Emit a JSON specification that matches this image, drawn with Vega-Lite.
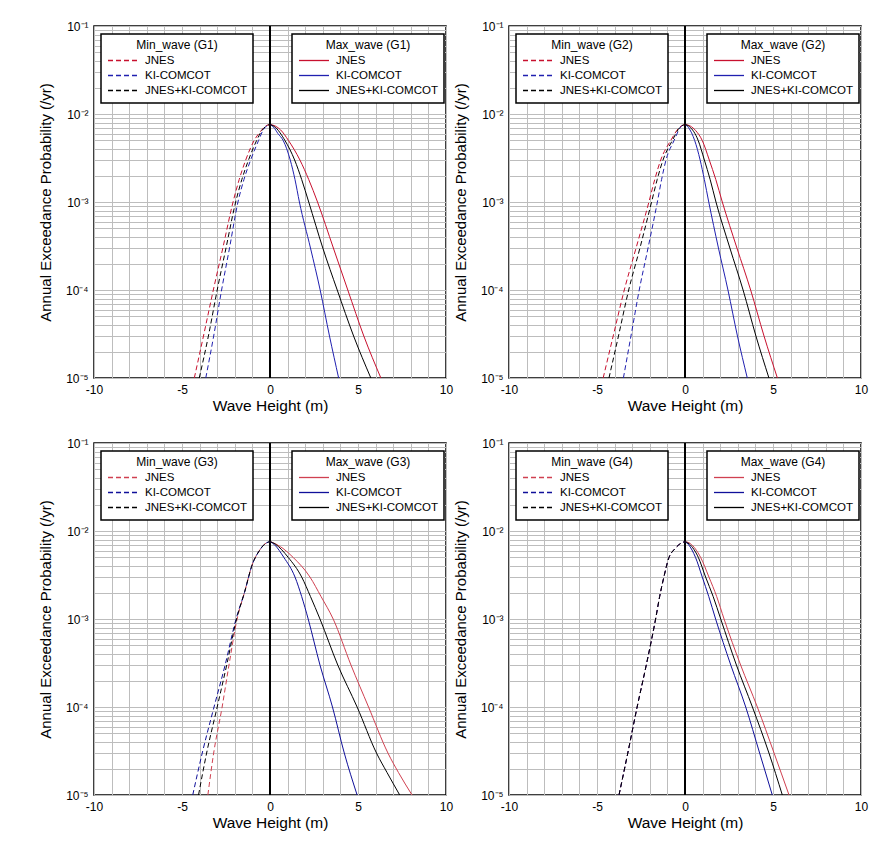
{
"$schema":"https://vega.github.io/schema/vega-lite/v6.json",
"padding":{"left":37,"top":19,"right":5,"bottom":5},
"background":"white",
"bounds":"flush",
"columns":2,
"spacing":{"row":65,"column":63},
"datasets":{"d":[
{"g":"G1","s":"max","m":"JNES","x":0,"p":0.0076},{"g":"G1","s":"max","m":"JNES","x":0.3,"p":0.0073},{"g":"G1","s":"max","m":"JNES","x":0.6,"p":0.0066},{"g":"G1","s":"max","m":"JNES","x":1.05,"p":0.005},{"g":"G1","s":"max","m":"JNES","x":1.7,"p":0.003},{"g":"G1","s":"max","m":"JNES","x":2.2,"p":0.0018},{"g":"G1","s":"max","m":"JNES","x":2.7,"p":0.001},{"g":"G1","s":"max","m":"JNES","x":3.6,"p":0.0003},{"g":"G1","s":"max","m":"JNES","x":4.42,"p":0.0001},{"g":"G1","s":"max","m":"JNES","x":5.33,"p":0.00003},{"g":"G1","s":"max","m":"JNES","x":6.3,"p":0.00001},
{"g":"G1","s":"max","m":"KI-COMCOT","x":0,"p":0.0076},{"g":"G1","s":"max","m":"KI-COMCOT","x":0.2,"p":0.0071},{"g":"G1","s":"max","m":"KI-COMCOT","x":0.45,"p":0.006},{"g":"G1","s":"max","m":"KI-COMCOT","x":0.75,"p":0.005},{"g":"G1","s":"max","m":"KI-COMCOT","x":1.15,"p":0.003},{"g":"G1","s":"max","m":"KI-COMCOT","x":1.42,"p":0.0018},{"g":"G1","s":"max","m":"KI-COMCOT","x":1.67,"p":0.001},{"g":"G1","s":"max","m":"KI-COMCOT","x":2.3,"p":0.0003},{"g":"G1","s":"max","m":"KI-COMCOT","x":2.85,"p":0.0001},{"g":"G1","s":"max","m":"KI-COMCOT","x":3.38,"p":0.00003},{"g":"G1","s":"max","m":"KI-COMCOT","x":3.9,"p":0.00001},
{"g":"G1","s":"max","m":"JNES+KI-COMCOT","x":0,"p":0.0076},{"g":"G1","s":"max","m":"JNES+KI-COMCOT","x":0.25,"p":0.0072},{"g":"G1","s":"max","m":"JNES+KI-COMCOT","x":0.85,"p":0.005},{"g":"G1","s":"max","m":"JNES+KI-COMCOT","x":1.4,"p":0.003},{"g":"G1","s":"max","m":"JNES+KI-COMCOT","x":1.8,"p":0.0018},{"g":"G1","s":"max","m":"JNES+KI-COMCOT","x":2.2,"p":0.001},{"g":"G1","s":"max","m":"JNES+KI-COMCOT","x":3.0,"p":0.0003},{"g":"G1","s":"max","m":"JNES+KI-COMCOT","x":3.82,"p":0.0001},{"g":"G1","s":"max","m":"JNES+KI-COMCOT","x":4.75,"p":0.00003},{"g":"G1","s":"max","m":"JNES+KI-COMCOT","x":5.73,"p":0.00001},
{"g":"G1","s":"min","m":"JNES","x":0,"p":0.0076},{"g":"G1","s":"min","m":"JNES","x":-0.25,"p":0.0073},{"g":"G1","s":"min","m":"JNES","x":-0.55,"p":0.0063},{"g":"G1","s":"min","m":"JNES","x":-0.9,"p":0.005},{"g":"G1","s":"min","m":"JNES","x":-1.38,"p":0.003},{"g":"G1","s":"min","m":"JNES","x":-1.75,"p":0.0018},{"g":"G1","s":"min","m":"JNES","x":-2.1,"p":0.001},{"g":"G1","s":"min","m":"JNES","x":-2.68,"p":0.0003},{"g":"G1","s":"min","m":"JNES","x":-3.22,"p":0.0001},{"g":"G1","s":"min","m":"JNES","x":-3.78,"p":0.00003},{"g":"G1","s":"min","m":"JNES","x":-4.3,"p":0.00001},
{"g":"G1","s":"min","m":"KI-COMCOT","x":0,"p":0.0076},{"g":"G1","s":"min","m":"KI-COMCOT","x":-0.2,"p":0.0073},{"g":"G1","s":"min","m":"KI-COMCOT","x":-0.4,"p":0.0065},{"g":"G1","s":"min","m":"KI-COMCOT","x":-0.65,"p":0.005},{"g":"G1","s":"min","m":"KI-COMCOT","x":-1.1,"p":0.003},{"g":"G1","s":"min","m":"KI-COMCOT","x":-1.48,"p":0.0018},{"g":"G1","s":"min","m":"KI-COMCOT","x":-1.82,"p":0.001},{"g":"G1","s":"min","m":"KI-COMCOT","x":-2.3,"p":0.0003},{"g":"G1","s":"min","m":"KI-COMCOT","x":-2.75,"p":0.0001},{"g":"G1","s":"min","m":"KI-COMCOT","x":-3.2,"p":0.00003},{"g":"G1","s":"min","m":"KI-COMCOT","x":-3.65,"p":0.00001},
{"g":"G1","s":"min","m":"JNES+KI-COMCOT","x":0,"p":0.0076},{"g":"G1","s":"min","m":"JNES+KI-COMCOT","x":-0.22,"p":0.0073},{"g":"G1","s":"min","m":"JNES+KI-COMCOT","x":-0.48,"p":0.0064},{"g":"G1","s":"min","m":"JNES+KI-COMCOT","x":-0.76,"p":0.005},{"g":"G1","s":"min","m":"JNES+KI-COMCOT","x":-1.22,"p":0.003},{"g":"G1","s":"min","m":"JNES+KI-COMCOT","x":-1.6,"p":0.0018},{"g":"G1","s":"min","m":"JNES+KI-COMCOT","x":-1.95,"p":0.001},{"g":"G1","s":"min","m":"JNES+KI-COMCOT","x":-2.5,"p":0.0003},{"g":"G1","s":"min","m":"JNES+KI-COMCOT","x":-3.0,"p":0.0001},{"g":"G1","s":"min","m":"JNES+KI-COMCOT","x":-3.5,"p":0.00003},{"g":"G1","s":"min","m":"JNES+KI-COMCOT","x":-4.02,"p":0.00001},

{"g":"G2","s":"max","m":"JNES","x":0,"p":0.0076},{"g":"G2","s":"max","m":"JNES","x":0.3,"p":0.0073},{"g":"G2","s":"max","m":"JNES","x":0.6,"p":0.0065},{"g":"G2","s":"max","m":"JNES","x":0.98,"p":0.005},{"g":"G2","s":"max","m":"JNES","x":1.38,"p":0.003},{"g":"G2","s":"max","m":"JNES","x":1.75,"p":0.0018},{"g":"G2","s":"max","m":"JNES","x":2.12,"p":0.001},{"g":"G2","s":"max","m":"JNES","x":2.95,"p":0.0003},{"g":"G2","s":"max","m":"JNES","x":3.73,"p":0.0001},{"g":"G2","s":"max","m":"JNES","x":4.49,"p":0.00003},{"g":"G2","s":"max","m":"JNES","x":5.25,"p":0.00001},
{"g":"G2","s":"max","m":"KI-COMCOT","x":0,"p":0.0076},{"g":"G2","s":"max","m":"KI-COMCOT","x":0.2,"p":0.007},{"g":"G2","s":"max","m":"KI-COMCOT","x":0.55,"p":0.005},{"g":"G2","s":"max","m":"KI-COMCOT","x":0.86,"p":0.003},{"g":"G2","s":"max","m":"KI-COMCOT","x":1.1,"p":0.0018},{"g":"G2","s":"max","m":"KI-COMCOT","x":1.35,"p":0.001},{"g":"G2","s":"max","m":"KI-COMCOT","x":1.9,"p":0.0003},{"g":"G2","s":"max","m":"KI-COMCOT","x":2.44,"p":0.0001},{"g":"G2","s":"max","m":"KI-COMCOT","x":2.98,"p":0.00003},{"g":"G2","s":"max","m":"KI-COMCOT","x":3.54,"p":0.00001},
{"g":"G2","s":"max","m":"JNES+KI-COMCOT","x":0,"p":0.0076},{"g":"G2","s":"max","m":"JNES+KI-COMCOT","x":0.25,"p":0.0072},{"g":"G2","s":"max","m":"JNES+KI-COMCOT","x":0.75,"p":0.005},{"g":"G2","s":"max","m":"JNES+KI-COMCOT","x":1.1,"p":0.003},{"g":"G2","s":"max","m":"JNES+KI-COMCOT","x":1.43,"p":0.0018},{"g":"G2","s":"max","m":"JNES+KI-COMCOT","x":1.76,"p":0.001},{"g":"G2","s":"max","m":"JNES+KI-COMCOT","x":2.55,"p":0.0003},{"g":"G2","s":"max","m":"JNES+KI-COMCOT","x":3.3,"p":0.0001},{"g":"G2","s":"max","m":"JNES+KI-COMCOT","x":4.03,"p":0.00003},{"g":"G2","s":"max","m":"JNES+KI-COMCOT","x":4.77,"p":0.00001},
{"g":"G2","s":"min","m":"JNES","x":0,"p":0.0076},{"g":"G2","s":"min","m":"JNES","x":-0.3,"p":0.0071},{"g":"G2","s":"min","m":"JNES","x":-0.81,"p":0.005},{"g":"G2","s":"min","m":"JNES","x":-1.38,"p":0.003},{"g":"G2","s":"min","m":"JNES","x":-1.72,"p":0.0018},{"g":"G2","s":"min","m":"JNES","x":-2.05,"p":0.001},{"g":"G2","s":"min","m":"JNES","x":-2.78,"p":0.0003},{"g":"G2","s":"min","m":"JNES","x":-3.45,"p":0.0001},{"g":"G2","s":"min","m":"JNES","x":-4.08,"p":0.00003},{"g":"G2","s":"min","m":"JNES","x":-4.65,"p":0.00001},
{"g":"G2","s":"min","m":"KI-COMCOT","x":0,"p":0.0076},{"g":"G2","s":"min","m":"KI-COMCOT","x":-0.25,"p":0.0071},{"g":"G2","s":"min","m":"KI-COMCOT","x":-0.62,"p":0.005},{"g":"G2","s":"min","m":"KI-COMCOT","x":-1.08,"p":0.003},{"g":"G2","s":"min","m":"KI-COMCOT","x":-1.33,"p":0.0018},{"g":"G2","s":"min","m":"KI-COMCOT","x":-1.57,"p":0.001},{"g":"G2","s":"min","m":"KI-COMCOT","x":-2.1,"p":0.0003},{"g":"G2","s":"min","m":"KI-COMCOT","x":-2.6,"p":0.0001},{"g":"G2","s":"min","m":"KI-COMCOT","x":-3.07,"p":0.00003},{"g":"G2","s":"min","m":"KI-COMCOT","x":-3.5,"p":0.00001},
{"g":"G2","s":"min","m":"JNES+KI-COMCOT","x":0,"p":0.0076},{"g":"G2","s":"min","m":"JNES+KI-COMCOT","x":-0.28,"p":0.0071},{"g":"G2","s":"min","m":"JNES+KI-COMCOT","x":-0.72,"p":0.005},{"g":"G2","s":"min","m":"JNES+KI-COMCOT","x":-1.25,"p":0.003},{"g":"G2","s":"min","m":"JNES+KI-COMCOT","x":-1.58,"p":0.0018},{"g":"G2","s":"min","m":"JNES+KI-COMCOT","x":-1.9,"p":0.001},{"g":"G2","s":"min","m":"JNES+KI-COMCOT","x":-2.56,"p":0.0003},{"g":"G2","s":"min","m":"JNES+KI-COMCOT","x":-3.2,"p":0.0001},{"g":"G2","s":"min","m":"JNES+KI-COMCOT","x":-3.78,"p":0.00003},{"g":"G2","s":"min","m":"JNES+KI-COMCOT","x":-4.32,"p":0.00001},

{"g":"G3","s":"max","m":"JNES","x":0,"p":0.0076},{"g":"G3","s":"max","m":"JNES","x":0.4,"p":0.007},{"g":"G3","s":"max","m":"JNES","x":0.8,"p":0.0062},{"g":"G3","s":"max","m":"JNES","x":1.32,"p":0.005},{"g":"G3","s":"max","m":"JNES","x":2.27,"p":0.003},{"g":"G3","s":"max","m":"JNES","x":2.9,"p":0.0018},{"g":"G3","s":"max","m":"JNES","x":3.59,"p":0.001},{"g":"G3","s":"max","m":"JNES","x":4.6,"p":0.0003},{"g":"G3","s":"max","m":"JNES","x":5.6,"p":0.0001},{"g":"G3","s":"max","m":"JNES","x":6.7,"p":0.00003},{"g":"G3","s":"max","m":"JNES","x":7.3,"p":0.000018},{"g":"G3","s":"max","m":"JNES","x":8.07,"p":0.00001},
{"g":"G3","s":"max","m":"KI-COMCOT","x":0,"p":0.0076},{"g":"G3","s":"max","m":"KI-COMCOT","x":0.25,"p":0.007},{"g":"G3","s":"max","m":"KI-COMCOT","x":0.79,"p":0.005},{"g":"G3","s":"max","m":"KI-COMCOT","x":1.42,"p":0.003},{"g":"G3","s":"max","m":"KI-COMCOT","x":1.8,"p":0.0018},{"g":"G3","s":"max","m":"KI-COMCOT","x":2.17,"p":0.001},{"g":"G3","s":"max","m":"KI-COMCOT","x":2.84,"p":0.0003},{"g":"G3","s":"max","m":"KI-COMCOT","x":3.55,"p":0.0001},{"g":"G3","s":"max","m":"KI-COMCOT","x":4.22,"p":0.00003},{"g":"G3","s":"max","m":"KI-COMCOT","x":4.95,"p":0.00001},
{"g":"G3","s":"max","m":"JNES+KI-COMCOT","x":0,"p":0.0076},{"g":"G3","s":"max","m":"JNES+KI-COMCOT","x":0.3,"p":0.0071},{"g":"G3","s":"max","m":"JNES+KI-COMCOT","x":1.04,"p":0.005},{"g":"G3","s":"max","m":"JNES+KI-COMCOT","x":1.8,"p":0.003},{"g":"G3","s":"max","m":"JNES+KI-COMCOT","x":2.3,"p":0.0018},{"g":"G3","s":"max","m":"JNES+KI-COMCOT","x":2.84,"p":0.001},{"g":"G3","s":"max","m":"JNES+KI-COMCOT","x":3.85,"p":0.0003},{"g":"G3","s":"max","m":"JNES+KI-COMCOT","x":4.95,"p":0.0001},{"g":"G3","s":"max","m":"JNES+KI-COMCOT","x":6.05,"p":0.00003},{"g":"G3","s":"max","m":"JNES+KI-COMCOT","x":6.65,"p":0.000018},{"g":"G3","s":"max","m":"JNES+KI-COMCOT","x":7.37,"p":0.00001},
{"g":"G3","s":"min","m":"JNES","x":0,"p":0.0076},{"g":"G3","s":"min","m":"JNES","x":-0.3,"p":0.0071},{"g":"G3","s":"min","m":"JNES","x":-0.6,"p":0.006},{"g":"G3","s":"min","m":"JNES","x":-1.0,"p":0.0042},{"g":"G3","s":"min","m":"JNES","x":-1.45,"p":0.002},{"g":"G3","s":"min","m":"JNES","x":-1.87,"p":0.001},{"g":"G3","s":"min","m":"JNES","x":-2.33,"p":0.0003},{"g":"G3","s":"min","m":"JNES","x":-2.72,"p":0.0001},{"g":"G3","s":"min","m":"JNES","x":-3.2,"p":0.00003},{"g":"G3","s":"min","m":"JNES","x":-3.53,"p":0.00001},
{"g":"G3","s":"min","m":"KI-COMCOT","x":0,"p":0.0076},{"g":"G3","s":"min","m":"KI-COMCOT","x":-0.3,"p":0.0071},{"g":"G3","s":"min","m":"KI-COMCOT","x":-0.6,"p":0.006},{"g":"G3","s":"min","m":"KI-COMCOT","x":-1.0,"p":0.0042},{"g":"G3","s":"min","m":"KI-COMCOT","x":-1.45,"p":0.002},{"g":"G3","s":"min","m":"KI-COMCOT","x":-1.93,"p":0.001},{"g":"G3","s":"min","m":"KI-COMCOT","x":-2.55,"p":0.0003},{"g":"G3","s":"min","m":"KI-COMCOT","x":-3.18,"p":0.0001},{"g":"G3","s":"min","m":"KI-COMCOT","x":-3.85,"p":0.00003},{"g":"G3","s":"min","m":"KI-COMCOT","x":-4.39,"p":0.00001},
{"g":"G3","s":"min","m":"JNES+KI-COMCOT","x":0,"p":0.0076},{"g":"G3","s":"min","m":"JNES+KI-COMCOT","x":-0.3,"p":0.0071},{"g":"G3","s":"min","m":"JNES+KI-COMCOT","x":-0.6,"p":0.006},{"g":"G3","s":"min","m":"JNES+KI-COMCOT","x":-1.0,"p":0.0042},{"g":"G3","s":"min","m":"JNES+KI-COMCOT","x":-1.45,"p":0.002},{"g":"G3","s":"min","m":"JNES+KI-COMCOT","x":-1.9,"p":0.001},{"g":"G3","s":"min","m":"JNES+KI-COMCOT","x":-2.46,"p":0.0003},{"g":"G3","s":"min","m":"JNES+KI-COMCOT","x":-3.0,"p":0.0001},{"g":"G3","s":"min","m":"JNES+KI-COMCOT","x":-3.6,"p":0.00003},{"g":"G3","s":"min","m":"JNES+KI-COMCOT","x":-4.06,"p":0.00001},

{"g":"G4","s":"max","m":"JNES","x":0,"p":0.0076},{"g":"G4","s":"max","m":"JNES","x":0.3,"p":0.0072},{"g":"G4","s":"max","m":"JNES","x":0.89,"p":0.005},{"g":"G4","s":"max","m":"JNES","x":1.36,"p":0.003},{"g":"G4","s":"max","m":"JNES","x":1.8,"p":0.0018},{"g":"G4","s":"max","m":"JNES","x":2.22,"p":0.001},{"g":"G4","s":"max","m":"JNES","x":3.16,"p":0.0003},{"g":"G4","s":"max","m":"JNES","x":4.11,"p":0.0001},{"g":"G4","s":"max","m":"JNES","x":5.06,"p":0.00003},{"g":"G4","s":"max","m":"JNES","x":5.91,"p":0.00001},
{"g":"G4","s":"max","m":"KI-COMCOT","x":0,"p":0.0076},{"g":"G4","s":"max","m":"KI-COMCOT","x":0.2,"p":0.007},{"g":"G4","s":"max","m":"KI-COMCOT","x":0.6,"p":0.005},{"g":"G4","s":"max","m":"KI-COMCOT","x":0.98,"p":0.003},{"g":"G4","s":"max","m":"KI-COMCOT","x":1.35,"p":0.0018},{"g":"G4","s":"max","m":"KI-COMCOT","x":1.74,"p":0.001},{"g":"G4","s":"max","m":"KI-COMCOT","x":2.6,"p":0.0003},{"g":"G4","s":"max","m":"KI-COMCOT","x":3.45,"p":0.0001},{"g":"G4","s":"max","m":"KI-COMCOT","x":4.24,"p":0.00003},{"g":"G4","s":"max","m":"KI-COMCOT","x":4.96,"p":0.00001},
{"g":"G4","s":"max","m":"JNES+KI-COMCOT","x":0,"p":0.0076},{"g":"G4","s":"max","m":"JNES+KI-COMCOT","x":0.25,"p":0.0071},{"g":"G4","s":"max","m":"JNES+KI-COMCOT","x":0.76,"p":0.005},{"g":"G4","s":"max","m":"JNES+KI-COMCOT","x":1.17,"p":0.003},{"g":"G4","s":"max","m":"JNES+KI-COMCOT","x":1.6,"p":0.0018},{"g":"G4","s":"max","m":"JNES+KI-COMCOT","x":2.03,"p":0.001},{"g":"G4","s":"max","m":"JNES+KI-COMCOT","x":2.92,"p":0.0003},{"g":"G4","s":"max","m":"JNES+KI-COMCOT","x":3.83,"p":0.0001},{"g":"G4","s":"max","m":"JNES+KI-COMCOT","x":4.77,"p":0.00003},{"g":"G4","s":"max","m":"JNES+KI-COMCOT","x":5.53,"p":0.00001},
{"g":"G4","s":"min","m":"JNES","x":0,"p":0.0076},{"g":"G4","s":"min","m":"JNES","x":-0.3,"p":0.0071},{"g":"G4","s":"min","m":"JNES","x":-0.6,"p":0.0062},{"g":"G4","s":"min","m":"JNES","x":-0.91,"p":0.005},{"g":"G4","s":"min","m":"JNES","x":-1.2,"p":0.003},{"g":"G4","s":"min","m":"JNES","x":-1.44,"p":0.0018},{"g":"G4","s":"min","m":"JNES","x":-1.67,"p":0.001},{"g":"G4","s":"min","m":"JNES","x":-2.2,"p":0.0003},{"g":"G4","s":"min","m":"JNES","x":-2.72,"p":0.0001},{"g":"G4","s":"min","m":"JNES","x":-3.25,"p":0.00003},{"g":"G4","s":"min","m":"JNES","x":-3.75,"p":0.00001},
{"g":"G4","s":"min","m":"KI-COMCOT","x":0,"p":0.0076},{"g":"G4","s":"min","m":"KI-COMCOT","x":-0.3,"p":0.0071},{"g":"G4","s":"min","m":"KI-COMCOT","x":-0.6,"p":0.0062},{"g":"G4","s":"min","m":"KI-COMCOT","x":-0.91,"p":0.005},{"g":"G4","s":"min","m":"KI-COMCOT","x":-1.2,"p":0.003},{"g":"G4","s":"min","m":"KI-COMCOT","x":-1.44,"p":0.0018},{"g":"G4","s":"min","m":"KI-COMCOT","x":-1.67,"p":0.001},{"g":"G4","s":"min","m":"KI-COMCOT","x":-2.2,"p":0.0003},{"g":"G4","s":"min","m":"KI-COMCOT","x":-2.72,"p":0.0001},{"g":"G4","s":"min","m":"KI-COMCOT","x":-3.25,"p":0.00003},{"g":"G4","s":"min","m":"KI-COMCOT","x":-3.75,"p":0.00001},
{"g":"G4","s":"min","m":"JNES+KI-COMCOT","x":0,"p":0.0076},{"g":"G4","s":"min","m":"JNES+KI-COMCOT","x":-0.3,"p":0.0071},{"g":"G4","s":"min","m":"JNES+KI-COMCOT","x":-0.6,"p":0.0062},{"g":"G4","s":"min","m":"JNES+KI-COMCOT","x":-0.91,"p":0.005},{"g":"G4","s":"min","m":"JNES+KI-COMCOT","x":-1.2,"p":0.003},{"g":"G4","s":"min","m":"JNES+KI-COMCOT","x":-1.44,"p":0.0018},{"g":"G4","s":"min","m":"JNES+KI-COMCOT","x":-1.67,"p":0.001},{"g":"G4","s":"min","m":"JNES+KI-COMCOT","x":-2.2,"p":0.0003},{"g":"G4","s":"min","m":"JNES+KI-COMCOT","x":-2.72,"p":0.0001},{"g":"G4","s":"min","m":"JNES+KI-COMCOT","x":-3.25,"p":0.00003},{"g":"G4","s":"min","m":"JNES+KI-COMCOT","x":-3.75,"p":0.00001}
]},
"data":{"name":"d"},
"concat":[
{"width":352,"height":352,"transform":[{"filter":"datum.g=='G1'"}],"resolve":{"scale":{"color":"independent"},"axis":{"x":"independent"}},
 "layer":[
  {"mark":{"type":"rule","color":"black","strokeWidth":1},"encoding":{"x":{"datum":0,"type":"quantitative","scale":{"domain":[-10,10],"nice":false},"axis":{"values":[-10,-9,-8,-7,-6,-5,-4,-3,-2,-1,0,1,2,3,4,5,6,7,8,9,10],"labels":false,"title":null,"grid":true,"orient":"top"}}}},
  {"transform":[{"filter":"datum.s=='min'"}],"mark":{"type":"line","strokeDash":[5,3],"strokeWidth":1,"interpolate":"monotone"},
   "encoding":{"x":{"field":"x","type":"quantitative","axis":{"title":"Wave Height (m)","grid":false,"orient":"bottom","values":[-10,-5,0,5,10],"labelExpr":"'' + datum.value"}},
    "y":{"field":"p","type":"quantitative","scale":{"type":"log","domain":[0.00001,0.1],"nice":false},"axis":{"title":"Annual Exceedance Probability (/yr)","values":[0.00001,0.00002,0.00003,0.00004,0.00005,0.00006,0.00007,0.00008,0.00009,0.0001,0.0002,0.0003,0.0004,0.0005,0.0006,0.0007,0.0008,0.0009,0.001,0.002,0.003,0.004,0.005,0.006,0.007,0.008,0.009,0.01,0.02,0.03,0.04,0.05,0.06,0.07,0.08,0.09,0.1],"labelExpr":"datum.value==0.1?'10⁻¹':datum.value==0.01?'10⁻²':datum.value==0.001?'10⁻³':datum.value==0.0001?'10⁻⁴':datum.value==0.00001?'10⁻⁵':''"}},
    "color":{"field":"m","type":"nominal","scale":{"domain":["JNES","KI-COMCOT","JNES+KI-COMCOT"],"range":["#c8102e","#2020b0","#000000"]},"legend":{"title":"Min_wave (G1)","legendX":7,"legendY":8,"symbolDash":[5,3]}}}},
  {"transform":[{"filter":"datum.s=='max'"}],"mark":{"type":"line","strokeWidth":1,"interpolate":"monotone"},
   "encoding":{"x":{"field":"x","type":"quantitative","axis":null},"y":{"field":"p","type":"quantitative"},
    "color":{"field":"m","type":"nominal","scale":{"domain":["JNES","KI-COMCOT","JNES+KI-COMCOT"],"range":["#c8102e","#2020b0","#000000"]},"legend":{"title":"Max_wave (G1)","legendX":198,"legendY":8}}}}
 ]},
{"width":352,"height":352,"transform":[{"filter":"datum.g=='G2'"}],"resolve":{"scale":{"color":"independent"},"axis":{"x":"independent"}},
 "layer":[
  {"mark":{"type":"rule","color":"black","strokeWidth":1},"encoding":{"x":{"datum":0,"type":"quantitative","scale":{"domain":[-10,10],"nice":false},"axis":{"values":[-10,-9,-8,-7,-6,-5,-4,-3,-2,-1,0,1,2,3,4,5,6,7,8,9,10],"labels":false,"title":null,"grid":true,"orient":"top"}}}},
  {"transform":[{"filter":"datum.s=='min'"}],"mark":{"type":"line","strokeDash":[5,3],"strokeWidth":1,"interpolate":"monotone"},
   "encoding":{"x":{"field":"x","type":"quantitative","axis":{"title":"Wave Height (m)","grid":false,"orient":"bottom","values":[-10,-5,0,5,10],"labelExpr":"'' + datum.value"}},
    "y":{"field":"p","type":"quantitative","scale":{"type":"log","domain":[0.00001,0.1],"nice":false},"axis":{"title":"Annual Exceedance Probability (/yr)","values":[0.00001,0.00002,0.00003,0.00004,0.00005,0.00006,0.00007,0.00008,0.00009,0.0001,0.0002,0.0003,0.0004,0.0005,0.0006,0.0007,0.0008,0.0009,0.001,0.002,0.003,0.004,0.005,0.006,0.007,0.008,0.009,0.01,0.02,0.03,0.04,0.05,0.06,0.07,0.08,0.09,0.1],"labelExpr":"datum.value==0.1?'10⁻¹':datum.value==0.01?'10⁻²':datum.value==0.001?'10⁻³':datum.value==0.0001?'10⁻⁴':datum.value==0.00001?'10⁻⁵':''"}},
    "color":{"field":"m","type":"nominal","scale":{"domain":["JNES","KI-COMCOT","JNES+KI-COMCOT"],"range":["#c8102e","#2020b0","#000000"]},"legend":{"title":"Min_wave (G2)","legendX":7,"legendY":8,"symbolDash":[5,3]}}}},
  {"transform":[{"filter":"datum.s=='max'"}],"mark":{"type":"line","strokeWidth":1,"interpolate":"monotone"},
   "encoding":{"x":{"field":"x","type":"quantitative","axis":null},"y":{"field":"p","type":"quantitative"},
    "color":{"field":"m","type":"nominal","scale":{"domain":["JNES","KI-COMCOT","JNES+KI-COMCOT"],"range":["#c8102e","#2020b0","#000000"]},"legend":{"title":"Max_wave (G2)","legendX":198,"legendY":8}}}}
 ]},
{"width":352,"height":352,"transform":[{"filter":"datum.g=='G3'"}],"resolve":{"scale":{"color":"independent"},"axis":{"x":"independent"}},
 "layer":[
  {"mark":{"type":"rule","color":"black","strokeWidth":1},"encoding":{"x":{"datum":0,"type":"quantitative","scale":{"domain":[-10,10],"nice":false},"axis":{"values":[-10,-9,-8,-7,-6,-5,-4,-3,-2,-1,0,1,2,3,4,5,6,7,8,9,10],"labels":false,"title":null,"grid":true,"orient":"top"}}}},
  {"transform":[{"filter":"datum.s=='min'"}],"mark":{"type":"line","strokeDash":[5,3],"strokeWidth":1,"interpolate":"monotone"},
   "encoding":{"x":{"field":"x","type":"quantitative","axis":{"title":"Wave Height (m)","grid":false,"orient":"bottom","values":[-10,-5,0,5,10],"labelExpr":"'' + datum.value"}},
    "y":{"field":"p","type":"quantitative","scale":{"type":"log","domain":[0.00001,0.1],"nice":false},"axis":{"title":"Annual Exceedance Probability (/yr)","values":[0.00001,0.00002,0.00003,0.00004,0.00005,0.00006,0.00007,0.00008,0.00009,0.0001,0.0002,0.0003,0.0004,0.0005,0.0006,0.0007,0.0008,0.0009,0.001,0.002,0.003,0.004,0.005,0.006,0.007,0.008,0.009,0.01,0.02,0.03,0.04,0.05,0.06,0.07,0.08,0.09,0.1],"labelExpr":"datum.value==0.1?'10⁻¹':datum.value==0.01?'10⁻²':datum.value==0.001?'10⁻³':datum.value==0.0001?'10⁻⁴':datum.value==0.00001?'10⁻⁵':''"}},
    "color":{"field":"m","type":"nominal","scale":{"domain":["JNES","KI-COMCOT","JNES+KI-COMCOT"],"range":["#d04050","#10109a","#000000"]},"legend":{"title":"Min_wave (G3)","legendX":7,"legendY":8,"symbolDash":[5,3]}}}},
  {"transform":[{"filter":"datum.s=='max'"}],"mark":{"type":"line","strokeWidth":1,"interpolate":"monotone"},
   "encoding":{"x":{"field":"x","type":"quantitative","axis":null},"y":{"field":"p","type":"quantitative"},
    "color":{"field":"m","type":"nominal","scale":{"domain":["JNES","KI-COMCOT","JNES+KI-COMCOT"],"range":["#d04050","#10109a","#000000"]},"legend":{"title":"Max_wave (G3)","legendX":198,"legendY":8}}}}
 ]},
{"width":352,"height":352,"transform":[{"filter":"datum.g=='G4'"}],"resolve":{"scale":{"color":"independent"},"axis":{"x":"independent"}},
 "layer":[
  {"mark":{"type":"rule","color":"black","strokeWidth":1},"encoding":{"x":{"datum":0,"type":"quantitative","scale":{"domain":[-10,10],"nice":false},"axis":{"values":[-10,-9,-8,-7,-6,-5,-4,-3,-2,-1,0,1,2,3,4,5,6,7,8,9,10],"labels":false,"title":null,"grid":true,"orient":"top"}}}},
  {"transform":[{"filter":"datum.s=='min'"}],"mark":{"type":"line","strokeDash":[5,3],"strokeWidth":1,"interpolate":"monotone"},
   "encoding":{"x":{"field":"x","type":"quantitative","axis":{"title":"Wave Height (m)","grid":false,"orient":"bottom","values":[-10,-5,0,5,10],"labelExpr":"'' + datum.value"}},
    "y":{"field":"p","type":"quantitative","scale":{"type":"log","domain":[0.00001,0.1],"nice":false},"axis":{"title":"Annual Exceedance Probability (/yr)","values":[0.00001,0.00002,0.00003,0.00004,0.00005,0.00006,0.00007,0.00008,0.00009,0.0001,0.0002,0.0003,0.0004,0.0005,0.0006,0.0007,0.0008,0.0009,0.001,0.002,0.003,0.004,0.005,0.006,0.007,0.008,0.009,0.01,0.02,0.03,0.04,0.05,0.06,0.07,0.08,0.09,0.1],"labelExpr":"datum.value==0.1?'10⁻¹':datum.value==0.01?'10⁻²':datum.value==0.001?'10⁻³':datum.value==0.0001?'10⁻⁴':datum.value==0.00001?'10⁻⁵':''"}},
    "color":{"field":"m","type":"nominal","scale":{"domain":["JNES","KI-COMCOT","JNES+KI-COMCOT"],"range":["#d04050","#10109a","#000000"]},"legend":{"title":"Min_wave (G4)","legendX":7,"legendY":8,"symbolDash":[5,3]}}}},
  {"transform":[{"filter":"datum.s=='max'"}],"mark":{"type":"line","strokeWidth":1,"interpolate":"monotone"},
   "encoding":{"x":{"field":"x","type":"quantitative","axis":null},"y":{"field":"p","type":"quantitative"},
    "color":{"field":"m","type":"nominal","scale":{"domain":["JNES","KI-COMCOT","JNES+KI-COMCOT"],"range":["#d04050","#10109a","#000000"]},"legend":{"title":"Max_wave (G4)","legendX":198,"legendY":8}}}}
 ]}
],
"config":{
 "font":"Liberation Sans",
 "view":{"stroke":"black","strokeWidth":1.5},
 "axis":{"grid":true,"gridColor":"#bdbdbd","gridWidth":1,"domain":false,"ticks":false,"labelFont":"Liberation Sans","labelFontSize":12,"labelColor":"#000","titleFont":"Liberation Sans","titleFontSize":15,"titleFontWeight":"normal","titleColor":"#000","labelPadding":6,"labelOverlap":false,"labelFlush":false},
 "axisX":{"titlePadding":3,"titleFontSize":15.5},
 "axisY":{"titlePadding":12},
 "legend":{"orient":"none","direction":"vertical","strokeColor":"black","fillColor":"white","strokeWidth":1.5,"padding":6,"titleFont":"Liberation Sans","titleFontSize":12,"titleFontWeight":"normal","titleAnchor":"middle","titleColor":"#000","titlePadding":2,"labelFont":"Liberation Sans","labelFontSize":11.5,"labelColor":"#000","labelOffset":6,"symbolType":"stroke","symbolSize":900,"symbolStrokeWidth":1.3,"clipHeight":13,"rowPadding":2}
}
}
